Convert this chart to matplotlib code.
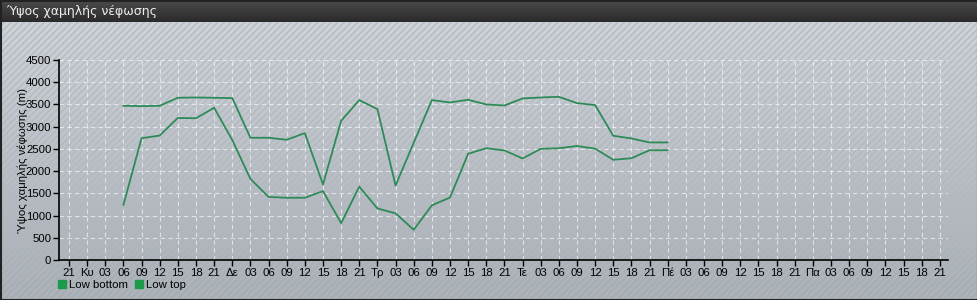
import numpy as np
import matplotlib
matplotlib.use("Agg")
import matplotlib.pyplot as plt
from matplotlib.patches import Rectangle
from matplotlib.lines import Line2D
from matplotlib.colors import LinearSegmentedColormap

# ---- data ----
tick_labels = ['21',
               'Κυ', '03', '06', '09', '12', '15', '18', '21',
               'Δε', '03', '06', '09', '12', '15', '18', '21',
               'Τρ', '03', '06', '09', '12', '15', '18', '21',
               'Τε', '03', '06', '09', '12', '15', '18', '21',
               'Πέ', '03', '06', '09', '12', '15', '18', '21',
               'Πα', '03', '06', '09', '12', '15', '18', '21']
start_index = 3
low_bottom = [1240, 2740, 2800, 3195, 3190, 3425, 2700, 1825, 1420, 1400, 1400,
              1550, 830, 1650, 1160, 1050, 680, 1230, 1405, 2390, 2515, 2465,
              2285, 2500, 2515, 2565, 2505, 2255, 2290, 2470, 2470]
low_top = [3470, 3462, 3470, 3650, 3657, 3650, 3642, 2750, 2750, 2705, 2855,
           1700, 3130, 3597, 3395, 1675, 2636, 3597, 3545, 3605, 3500, 3477,
           3635, 3657, 3672, 3530, 3485, 2795, 2735, 2645, 2645]
series_names = ['Low bottom', 'Low top']
title = 'Ύψος χαμηλής νέφωσης'
ylabel = 'Ύψος χαμηλής νέφωσης (m)'

plt.rcParams['font.family'] = ['Liberation Sans', 'DejaVu Sans']
plt.rcParams['hatch.linewidth'] = 0.9

W, H = 978, 300
fig = plt.figure(figsize=(W / 100, H / 100), dpi=100)

# ---- background ----
bg = fig.add_axes([0, 0, 1, 1], zorder=-10)
bg.set_xlim(0, W)
bg.set_ylim(H, 0)
bg.axis('off')
grad = np.linspace(0, 1, 256)[:, None]
cm_body = LinearSegmentedColormap.from_list('b', ['#cfd3d8', '#a8adb3'])
bg.imshow(grad, extent=(0, W, H, 22), cmap=cm_body, aspect='auto')
bg.add_patch(Rectangle((0, 22), W, H - 22, facecolor='none',
                       edgecolor='#b0b8c2', hatch='/////', linewidth=0))
cm_title = LinearSegmentedColormap.from_list('t', ['#2a2a2a', '#4c4c4c'])
bg.imshow(grad[::-1], extent=(0, W, 22, 0), cmap=cm_title, aspect='auto')
bg.add_patch(Rectangle((0.5, 0.5), W - 1, H - 1, facecolor='none',
                       edgecolor='#222222', linewidth=1.5))
bg.text(6, 11, title, color='#eeeeee', fontsize=9, va='center', ha='left',
        family='DejaVu Sans')

# ---- main axes ----
x0, x1 = 59, 948
y_top, y_bot = 60, 260
ax = fig.add_axes([x0 / W, 1 - y_bot / H, (x1 - x0) / W, (y_bot - y_top) / H])
ax.patch.set_alpha(0)

n = len(low_bottom)
xs = np.arange(start_index, start_index + n)
line_color = '#2e8b57'
ax.plot(xs, low_bottom, color=line_color, lw=1.3)
ax.plot(xs, low_top, color=line_color, lw=1.3)

fs = 8.2
ax.set_xlim(-0.55, len(tick_labels) - 1 + 0.45)
ax.set_ylim(0, 4500)
ax.set_xticks(np.arange(len(tick_labels)))
ax.set_xticklabels(tick_labels)
ax.set_yticks(np.arange(0, 4501, 500))
ax.tick_params(axis='both', labelsize=fs, length=4, width=1, color='black',
               pad=1.5)
for s in ['top', 'right']:
    ax.spines[s].set_visible(False)
for s in ['left', 'bottom']:
    ax.spines[s].set_color('black')
    ax.spines[s].set_linewidth(1.2)
ax.grid(True, color='white', linestyle=(0, (4, 3)), linewidth=0.8, alpha=0.6)
ax.set_axisbelow(True)
ax.set_ylabel(ylabel, fontsize=fs)
ax.yaxis.set_label_coords((28 - x0) / (x1 - x0), 0.5)

handles = [Line2D([], [], marker='s', linestyle='none', markersize=5.5,
                  markerfacecolor='#1c9a4c', markeredgecolor='#1c9a4c')
           for _ in series_names]
fig.legend(handles, series_names, loc='lower left',
           bbox_to_anchor=(56 / W, 1 - 290 / H), ncol=2, frameon=False,
           fontsize=fs, handletextpad=0.1, columnspacing=0.5,
           borderpad=0, borderaxespad=0, handlelength=1)

fig.savefig('out.png', dpi=100)
